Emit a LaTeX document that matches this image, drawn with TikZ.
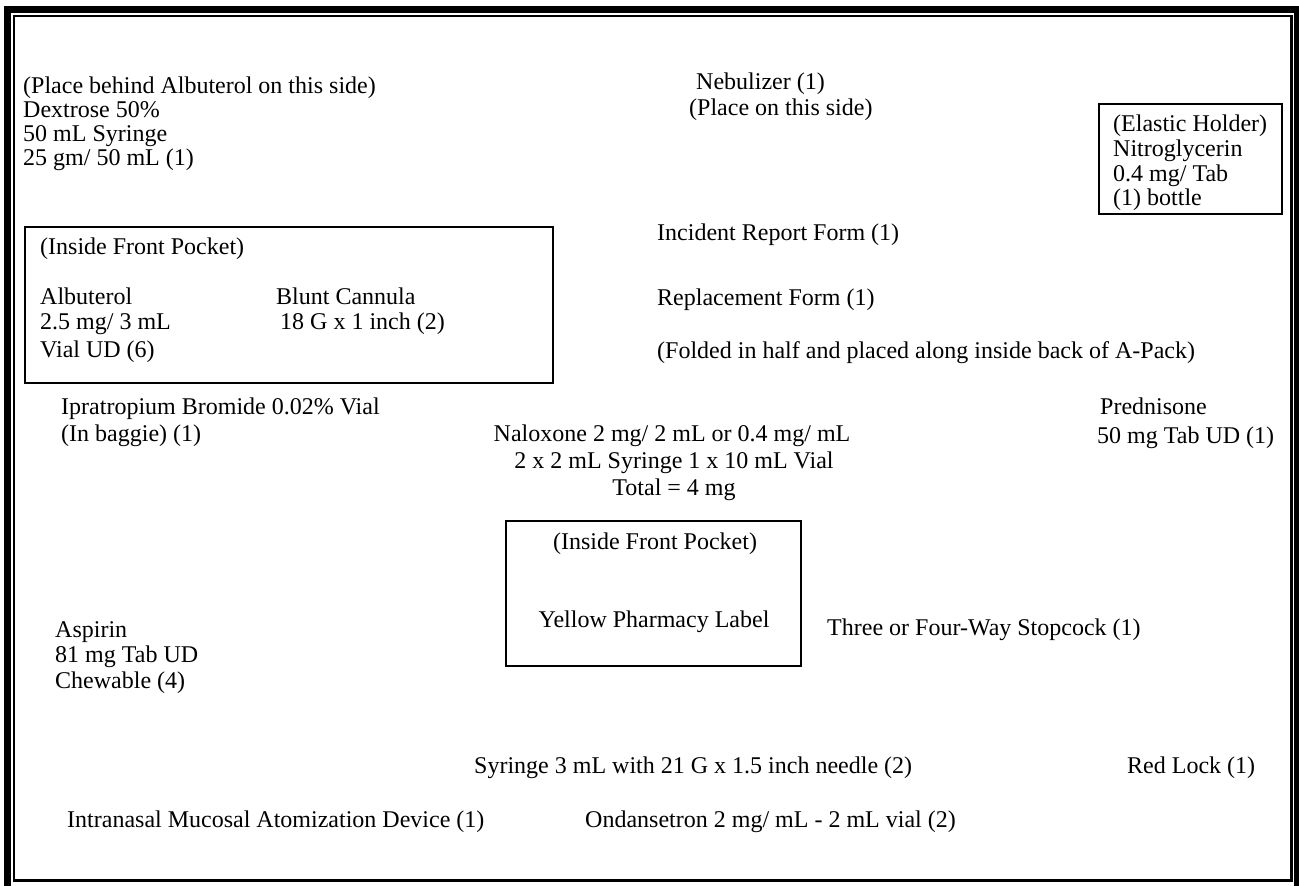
\documentclass[tikz,border=0pt]{standalone}
\usepackage{fontspec}
\setmainfont{Liberation Serif}
\begin{document}
\begin{tikzpicture}[x=1pt,y=-1pt,
  txt/.style={anchor=base west,inner sep=0pt,font=\fontsize{24}{28}\selectfont},
  ctxt/.style={anchor=base,inner sep=0pt,font=\fontsize{24}{28}\selectfont},
  box/.style={draw=black,line width=2pt,inner sep=0pt}]
\useasboundingbox (0,0) rectangle (1299,886);
\fill[white] (0,0) rectangle (1299,886);
% double frame
\draw[line width=7pt] (7.5,9.5) rectangle (1297,889);
\draw[line width=2.3pt] (14.3,16) rectangle (1291.5,880.5);
% top left block
\node[txt] (pb) at (23,93) {(Place behind Albuterol on this side)};
\node[txt] (dx) at (23,117) {Dextrose 50\%};
\node[txt] (sy) at (23,141) {50 mL Syringe};
\node[txt] (gm) at (23,165) {25 gm/ 50 mL (1)};
% nebulizer
\node[txt] (neb) at (696,89) {Nebulizer (1)};
\node[txt] (nebp) at (689,115) {(Place on this side)};
% elastic holder
\node[box,minimum width=183pt,minimum height=110pt] (elbox) at (1190.5,159) {};
\node[txt] (el1) at (1113,131) {(Elastic Holder)};
\node[txt] (el2) at (1113,156) {Nitroglycerin};
\node[txt] (el3) at (1113,181) {0.4 mg/ Tab};
\node[txt] (el4) at (1113,205) {(1) bottle};
% left pocket box
\node[box,minimum width=528pt,minimum height=156pt] (lpbox) at (289,305) {};
\node[txt] (lp) at (40,254) {(Inside Front Pocket)};
\node[txt] (al1) at (40,304) {Albuterol};
\node[txt] (al2) at (40,329) {2.5 mg/ 3 mL};
\node[txt] (al3) at (40,357) {Vial UD (6)};
\node[txt] (bc1) at (276,304) {Blunt Cannula};
\node[txt] (bc2) at (280,329) {18 G x 1 inch (2)};
% forms
\node[txt] (irf) at (657,240) {Incident Report Form (1)};
\node[txt] (rf) at (657,305) {Replacement Form (1)};
\node[txt] (fold) at (657,358) {(Folded in half and placed along inside back of A-Pack)};
% ipratropium
\node[txt] (ip1) at (61,414) {Ipratropium Bromide 0.02\% Vial};
\node[txt] (ip2) at (61,441) {(In baggie) (1)};
% prednisone
\node[txt] (pr1) at (1100,414) {Prednisone};
\node[txt] (pr2) at (1097,443) {50 mg Tab UD (1)};
% naloxone
\node[ctxt] (nx1) at (672,441) {Naloxone 2 mg/ 2 mL or 0.4 mg/ mL};
\node[ctxt] (nx2) at (674,468) {2 x 2 mL Syringe 1 x 10 mL Vial};
\node[ctxt] (nx3) at (674,495) {Total = 4 mg};
% yellow label box
\node[box,minimum width=295pt,minimum height=145pt] (ybox) at (653.5,593.5) {};
\node[ctxt] (yp1) at (655,549) {(Inside Front Pocket)};
\node[ctxt] (yp2) at (654,627) {Yellow Pharmacy Label};
% stopcock
\node[txt] (stc) at (827,635) {Three or Four-Way Stopcock (1)};
% aspirin
\node[txt] (as1) at (55,637) {Aspirin};
\node[txt] (as2) at (55,662) {81 mg Tab UD};
\node[txt] (as3) at (55,688) {Chewable (4)};
% bottom
\node[txt] (syr) at (474,773) {Syringe 3 mL with 21 G x 1.5 inch needle (2)};
\node[txt] (rl) at (1127,773) {Red Lock (1)};
\node[txt] (imad) at (67,827) {Intranasal Mucosal Atomization Device (1)};
\node[txt] (ond) at (585,827) {Ondansetron 2 mg/ mL - 2 mL vial (2)};
\end{tikzpicture}
\end{document}
